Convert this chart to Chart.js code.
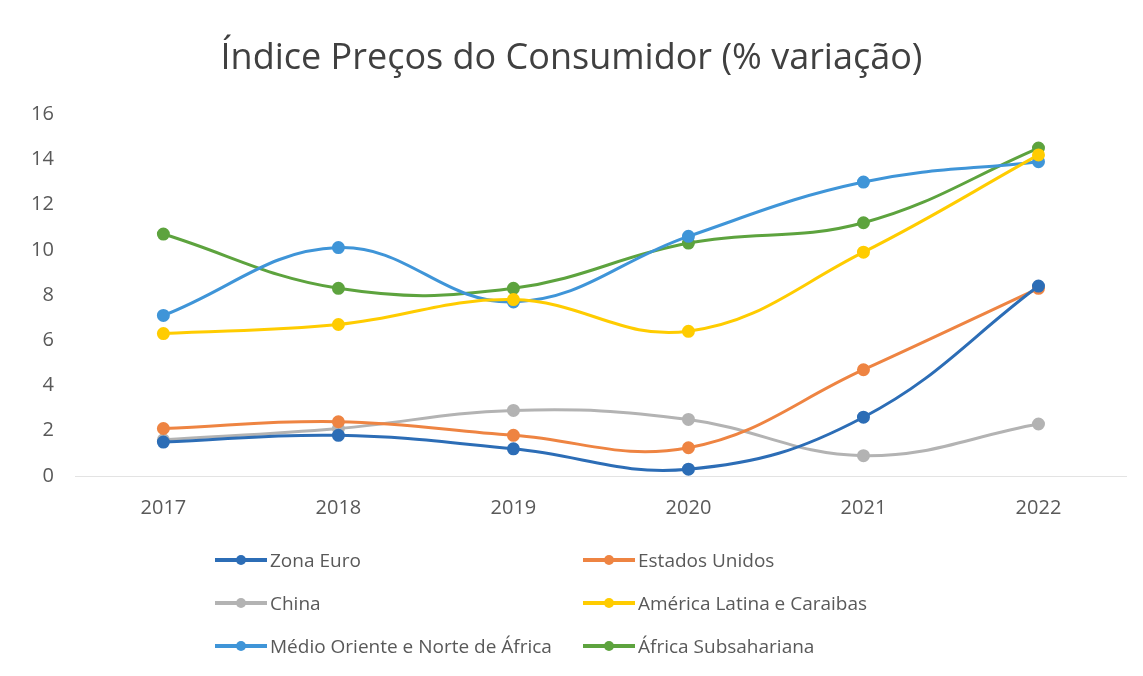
<!DOCTYPE html>
<html>
<head>
<meta charset="utf-8">
<script src="https://cdn.jsdelivr.net/npm/chart.js@4"></script>
<style>
  body { margin: 0; background: #fff; }
  #wrap { position: relative; width: 1143px; height: 676px; }
  #legenda { position: absolute; left: 215px; top: 547px; width: 760px; font-family: "Open Sans", sans-serif; font-size: 19px; color: #595959; }
  .item { position: absolute; display: flex; align-items: center; white-space: nowrap; }
  .marca { position: relative; width: 52px; height: 4px; margin-right: 3px; }
  .marca span { position: absolute; left: 21px; top: -3px; width: 10px; height: 10px; border-radius: 50%; }
</style>
</head>
<body>
<div id="wrap">
  <canvas id="grafico"></canvas>
  <div id="legenda"></div>
</div>
<script>
// dados
const anos = ['2017', '2018', '2019', '2020', '2021', '2022'];
const zonaEuro = [1.5, 1.8, 1.2, 0.3, 2.6, 8.4];
const estadosUnidos = [2.1, 2.4, 1.8, 1.25, 4.7, 8.3];
const china = [1.6, 2.1, 2.9, 2.5, 0.9, 2.3];
const americaLatina = [6.3, 6.7, 7.8, 6.4, 9.9, 14.2];
const medioOriente = [7.1, 10.1, 7.7, 10.6, 13.0, 13.9];
const africaSub = [10.7, 8.3, 8.3, 10.3, 11.2, 14.5];

const series = [
    { nome: 'Zona Euro', valores: zonaEuro, cor: '#2c6db6' },
    { nome: 'Estados Unidos', valores: estadosUnidos, cor: '#ee8442' },
    { nome: 'China', valores: china, cor: '#b3b3b3' },
    { nome: 'América Latina e Caraibas', valores: americaLatina, cor: '#ffcc00' },
    { nome: 'Médio Oriente e Norte de África', valores: medioOriente, cor: '#3f95d8' },
    { nome: 'África Subsahariana', valores: africaSub, cor: '#5da33e' }
];

const ctx = document.getElementById('grafico');
ctx.width = 1143; ctx.height = 676;

const grafico = new Chart(ctx, {
    type: 'line',
    data: {
        labels: anos,
        datasets: series.map(s => ({
            label: s.nome,
            data: s.valores,
            borderColor: s.cor,
            backgroundColor: s.cor,
            borderWidth: 3,
            pointRadius: 5,
            pointHoverRadius: 5,
            tension: 0.4,
            fill: false
        }))
    },
    options: {
        responsive: false,
        animation: false,
        layout: { padding: { left: 17, right: 17, top: 31, bottom: 144 } },
        plugins: {
            legend: { display: false },
            tooltip: { enabled: false },
            title: {
                display: true,
                text: 'Índice Preços do Consumidor (% variação)',
                color: '#404040',
                font: { family: 'Open Sans', size: 36, weight: '400' },
                padding: { top: 6, bottom: 34 }
            }
        },
        scales: {
            x: {
                offset: true,
                grid: { display: false },
                border: { color: '#e3e3e3', width: 1 },
                ticks: { color: '#595959', font: { family: 'Open Sans', size: 20 }, padding: 12 }
            },
            y: {
                min: 0,
                max: 16,
                ticks: { stepSize: 2, color: '#595959', font: { family: 'Open Sans', size: 20 }, padding: 14 },
                grid: { display: false },
                border: { display: false }
            }
        }
    }
});

// legenda em duas colunas
const posicoes = [[0, 0], [368, 0], [0, 43], [368, 43], [0, 86], [368, 86]];
const leg = document.getElementById('legenda');
series.forEach((s, i) => {
    const d = document.createElement('div');
    d.className = 'item';
    d.style.left = posicoes[i][0] + 'px';
    d.style.top = posicoes[i][1] + 'px';
    d.innerHTML = '<div class="marca" style="background:' + s.cor + '"><span style="background:' + s.cor + '"></span></div>' + s.nome;
    leg.appendChild(d);
});
</script>
</body>
</html>
